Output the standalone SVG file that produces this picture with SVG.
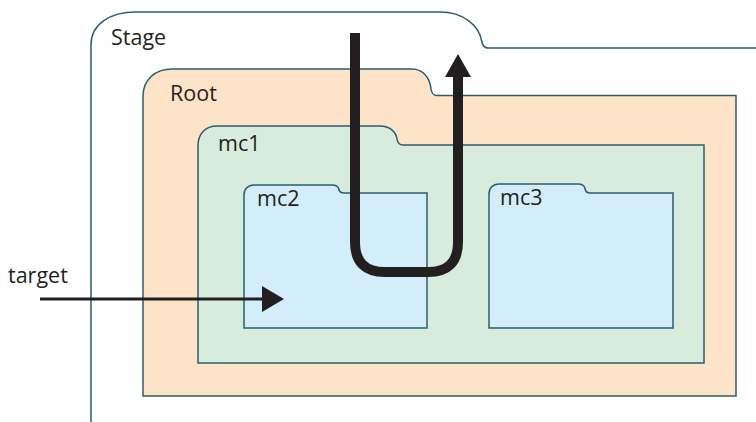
<svg xmlns="http://www.w3.org/2000/svg" width="756" height="422" viewBox="0 0 756 422">
<style>
.box{stroke:#2b5d70;stroke-width:1.5;stroke-linejoin:miter}
.lbl{font-family:"Open Sans","Noto Sans","Liberation Sans",sans-serif;font-size:21.5px;fill:#231f20}
.arr{fill:none;stroke:#231f20}
.head{fill:#231f20}
</style>
<rect width="756" height="422" fill="#ffffff"/>
<g id="stage">
<path class="box" fill="#ffffff" d="M91,422 V45 C91,24 110,12 136,12 H440 C463,12 479,25 482,42 Q483,48 488,48 H760"/>
<text class="lbl" x="111" y="45">Stage</text>
</g>
<g id="root">
<path class="box" fill="#fde4c9" d="M143,396 V96 C143,80 155,69 172,69 H412 C424,69 430,79 431,89 Q432,95.5 437,95.5 H736 V396 Z"/>
<text class="lbl" x="170" y="101">Root</text>
</g>
<g id="mc1">
<path class="box" fill="#d8ecdd" d="M198,363 V146 C198,134 205,126 217,126 H380 C390,126 396,132 397,139 Q398,145 403,145 H704 V363 Z"/>
<text class="lbl" x="218" y="151">mc1</text>
</g>
<g id="mc2">
<path class="box" fill="#d3eefa" d="M244,328 V195 C244,189 248,185 254,185 H333 C337,185 339,188 339,190 Q340,193 344,193 H427 V328 Z"/>
<text class="lbl" x="257" y="206">mc2</text>
</g>
<g id="mc3">
<path class="box" fill="#d3eefa" d="M489,328 V194 C489,188 493,184 499,184 H579 C583,184 585,187 585,189 Q586,193 590,193 H673 V328 Z"/>
<text class="lbl" x="500" y="205">mc3</text>
</g>
<g id="connectors">
<path class="arr" stroke-width="3" d="M40,299 H264"/>
<polygon class="head" points="262,286 284,299 262,312"/>
<path class="arr" stroke-width="10" d="M355,33 V242 Q355,272 385,272 H428 Q458,272 458,242 V76"/>
<polygon class="head" points="445,77 458,54 471,77"/>
<text class="lbl" x="8" y="283">target</text>
</g>
</svg>
